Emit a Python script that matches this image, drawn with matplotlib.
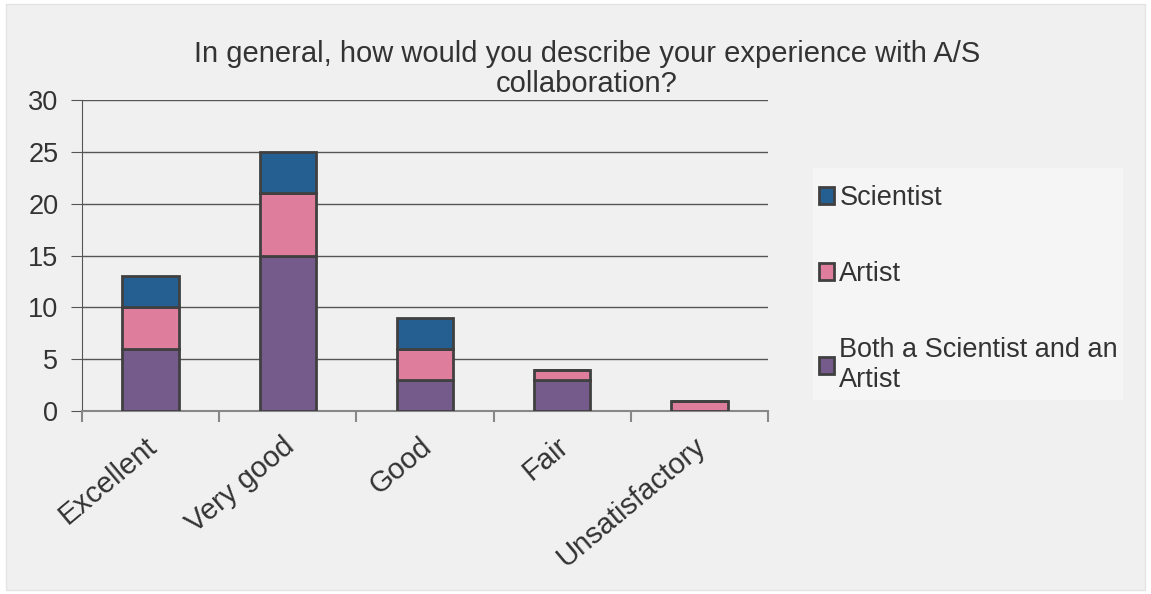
import matplotlib.pyplot as plt
import matplotlib.patches as mpatches
import matplotlib.transforms as mtransforms
import numpy as np

# Datos del gráfico
categorias = ["Excellent", "Very good", "Good", "Fair", "Unsatisfactory"]
ambos = [6, 15, 3, 3, 0]
artista = [4, 6, 3, 1, 1]
cientifico = [3, 4, 3, 0, 0]

colores = {"Scientist": "#255e91", "Artist": "#df7d9d", "Both": "#745b8b"}
borde = "#404040"
texto = "#333333"

plt.rcParams["font.family"] = ["Liberation Sans", "DejaVu Sans"]

W, H = 1151, 594
fig = plt.figure(figsize=(W / 100, H / 100), dpi=100)
fig.patch.set_facecolor("white")
# fondo gris del área del gráfico
fig.patches.append(mpatches.Rectangle((6 / W, 4 / H), 1139 / W, 586 / H,
                                      transform=fig.transFigure, facecolor="#f0f0f0",
                                      edgecolor="#e4e4e4", linewidth=1, zorder=-5))
# fondo de la leyenda
fig.patches.append(mpatches.Rectangle((813 / W, 1 - 400 / H), 310 / W, 232 / H,
                                      transform=fig.transFigure, facecolor="#f5f5f5",
                                      edgecolor="none", zorder=-4))

ax = fig.add_axes([82 / W, 1 - 411 / H, 686 / W, 311 / H])
ax.set_facecolor("none")
ax.set_zorder(2)

x = np.arange(len(categorias))
ancho = 0.41
b1 = ax.bar(x, ambos, ancho, color=colores["Both"], edgecolor=borde, linewidth=2,
            label="Both a Scientist and an\nArtist", zorder=3)
b2 = ax.bar(x, artista, ancho, bottom=ambos, color=colores["Artist"], edgecolor=borde,
            linewidth=2, label="Artist", zorder=3)
base = np.array(ambos) + np.array(artista)
b3 = ax.bar(x, cientifico, ancho, bottom=base, color=colores["Scientist"], edgecolor=borde,
            linewidth=2, label="Scientist", zorder=3)

ax.set_xlim(-0.5, 4.5)
ax.set_ylim(0, 30)
ax.set_yticks(range(0, 31, 5))
ax.yaxis.grid(True, color="#555555", linewidth=1, zorder=1)
ax.tick_params(axis="y", length=8, color="#555555", labelsize=19.5, labelcolor=texto, pad=9)

ax.set_xticks(x)
ax.set_xticklabels(categorias, rotation=40, ha="right", rotation_mode="anchor",
                   fontsize=21, color=texto)
ax.tick_params(axis="x", which="major", length=0, pad=15)
desplazar = mtransforms.ScaledTranslation(-6 / 100, 0, fig.dpi_scale_trans)
for etiqueta in ax.get_xticklabels():
    etiqueta.set_transform(etiqueta.get_transform() + desplazar)
ax.set_xticks(np.arange(-0.5, 4.6, 1), minor=True)
ax.tick_params(axis="x", which="minor", length=8, color="#888888", width=1.5)

for lado in ["top", "right"]:
    ax.spines[lado].set_visible(False)
ax.spines["left"].set_color("#555555")
ax.spines["bottom"].set_color("#888888")
ax.spines["bottom"].set_linewidth(1.5)

fig.text(587 / W, 1 - 69 / H,
         "In general, how would you describe your experience with A/S\ncollaboration?",
         ha="center", va="center", fontsize=21, color=texto, linespacing=1.1)

leg = fig.legend(handles=[b3, b2, b1], loc="upper left",
                 bbox_to_anchor=(819 / W, 1 - 185 / H), fontsize=19.5,
                 frameon=False, labelspacing=1.85, handlelength=0.55,
                 handleheight=0.55, handletextpad=0.2, borderpad=0, borderaxespad=0,
                 labelcolor=texto)

plt.savefig("out.png", dpi=100, facecolor=fig.get_facecolor())
